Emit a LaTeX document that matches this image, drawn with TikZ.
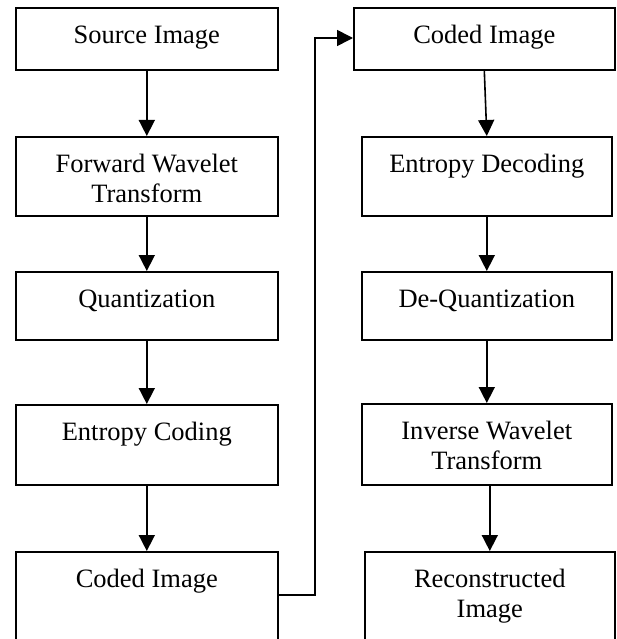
\documentclass[tikz,border=0pt]{standalone}
\usepackage{fontspec}
\setmainfont{Liberation Serif}
\usetikzlibrary{arrows.meta}
\newcommand\boxtext[3]{\parbox[t][#2][t]{#1}{\centering\fontsize{26.5pt}{30pt}\selectfont\rule{0pt}{36pt}#3\par}}
\tikzset{
  blk/.style={draw, line width=1.6pt, rectangle, inner sep=0pt, anchor=north west},
  arr/.style={line width=1.6pt, -{Triangle[length=16pt,width=16pt]}}
}
\begin{document}
\begin{tikzpicture}[x=1pt,y=-1pt]
\useasboundingbox (0,0) rectangle (617,639);
\clip (0,0) rectangle (617,639);
% left column
\node[blk] (s1) at (15,7)   {\boxtext{262pt}{62pt}{Source Image}};
\node[blk] (s2) at (15,136) {\boxtext{262pt}{79pt}{Forward Wavelet\\Transform}};
\node[blk] (s3) at (15,271) {\boxtext{262pt}{68pt}{Quantization}};
\node[blk] (s4) at (15,404) {\boxtext{262pt}{80pt}{Entropy Coding}};
\node[blk] (s5) at (15,551) {\boxtext{262pt}{110pt}{Coded Image}};
% right column
\node[blk] (r1) at (353,7)   {\boxtext{261pt}{62pt}{Coded Image}};
\node[blk] (r2) at (361,136) {\boxtext{250pt}{79pt}{Entropy Decoding}};
\node[blk] (r3) at (361,271) {\boxtext{250pt}{68pt}{De-Quantization}};
\node[blk] (r4) at (361,403) {\boxtext{250pt}{81pt}{Inverse Wavelet\\Transform}};
\node[blk] (r5) at (364,551) {\boxtext{250pt}{110pt}{Reconstructed\\Image}};
% arrows left
\draw[arr] (s1.south) -- (s2.north);
\draw[arr] (s2.south) -- (s3.north);
\draw[arr] (s3.south) -- (s4.north);
\draw[arr] (s4.south) -- (s5.north);
% arrows right
\draw[arr] (r1.south) -- (r2.north);
\draw[arr] (r2.south) -- (r3.north);
\draw[arr] (r3.south) -- (r4.north);
\draw[arr] (r4.south -| r5.north) -- (r5.north);
% feedback
\coordinate (k1) at (315,595);
\coordinate (k2) at (315,38);
\draw[arr] (s5.east |- k1) -- (k1) -- (k2) -- (k2 -| r1.west);
\end{tikzpicture}
\end{document}
